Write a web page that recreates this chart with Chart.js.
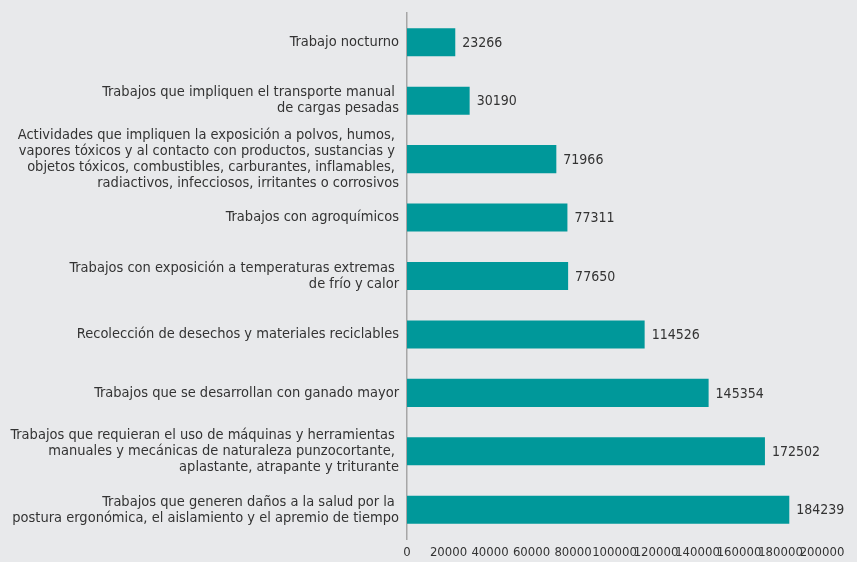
<!DOCTYPE html>
<html lang="es">
<head>
    <meta charset="UTF-8">
    <title>Trabajos peligrosos</title>
    <script src="https://cdn.jsdelivr.net/npm/chart.js"></script>
    <style>
        html, body {
            margin: 0;
            padding: 0;
            background-color: #e8e9eb;
        }

        .chart-box {
            width: 857px;
            height: 562px;
        }
    </style>
</head>
<body>
    <div class="chart-box">
        <canvas id="trabajosChart" width="857" height="562"></canvas>
    </div>

    <script>
        // Categorías (una línea por elemento)
        const categorias = [
            ['Trabajo nocturno'],
            ['Trabajos que impliquen el transporte manual ', 'de cargas pesadas'],
            ['Actividades que impliquen la exposición a polvos, humos, ', 'vapores tóxicos y al contacto con productos, sustancias y ', 'objetos tóxicos, combustibles, carburantes, inflamables, ', 'radiactivos, infecciosos, irritantes o corrosivos'],
            ['Trabajos con agroquímicos'],
            ['Trabajos con exposición a temperaturas extremas ', 'de frío y calor'],
            ['Recolección de desechos y materiales reciclables'],
            ['Trabajos que se desarrollan con ganado mayor'],
            ['Trabajos que requieran el uso de máquinas y herramientas ', 'manuales y mecánicas de naturaleza punzocortante, ', 'aplastante, atrapante y triturante'],
            ['Trabajos que generen daños a la salud por la ', 'postura ergonómica, el aislamiento y el apremio de tiempo']
        ];

        const valores = [23266, 30190, 71966, 77311, 77650, 114526, 145354, 172502, 184239];

        const ticksX = [0, 20000, 40000, 60000, 80000, 100000, 120000, 140000, 160000, 180000, 200000];

        const fuente = '"Liberation Sans Narrow", "DejaVu Sans Condensed", "Roboto", sans-serif';

        // Etiquetas de valor a la derecha de cada barra
        const etiquetasValor = {
            id: 'etiquetasValor',
            afterDatasetsDraw(chart) {
                const ctx = chart.ctx;
                const meta = chart.getDatasetMeta(0);
                ctx.save();
                ctx.font = '14px ' + fuente;
                ctx.fillStyle = '#333333';
                ctx.textAlign = 'left';
                ctx.textBaseline = 'middle';
                meta.data.forEach((bar, i) => {
                    ctx.fillText(String(valores[i]), bar.x + 7, bar.y + 1);
                });
                ctx.restore();
            }
        };

        const ctx = document.getElementById('trabajosChart').getContext('2d');
        const trabajosChart = new Chart(ctx, {
            type: 'bar',
            data: {
                labels: categorias,
                datasets: [{
                    data: valores,
                    backgroundColor: '#00989a',
                    barPercentage: 0.48,
                    categoryPercentage: 1
                }]
            },
            options: {
                indexAxis: 'y',
                responsive: false,
                animation: false,
                layout: {
                    padding: { top: 13, right: 35, bottom: 0, left: 0 }
                },
                plugins: {
                    legend: { display: false },
                    tooltip: { enabled: false }
                },
                scales: {
                    x: {
                        min: 0,
                        max: 200000,
                        afterBuildTicks(scale) {
                            scale.ticks = ticksX.map(v => ({ value: v }));
                        },
                        afterFit(scale) {
                            scale.height = 23;
                            scale.paddingLeft = 0;
                            scale.paddingRight = 0;
                        },
                        grid: { display: false, drawTicks: false },
                        border: { display: false },
                        ticks: {
                            color: '#333333',
                            font: { family: fuente, size: 13 },
                            padding: 6,
                            maxRotation: 0,
                            autoSkip: false,
                            callback: v => String(v)
                        }
                    },
                    y: {
                        afterFit(scale) {
                            scale.width = 407;
                            scale.paddingTop = 0;
                            scale.paddingBottom = 0;
                        },
                        grid: { display: false, drawTicks: false },
                        border: { display: true, color: '#a6a6a6', width: 1.5 },
                        ticks: {
                            color: '#333333',
                            font: { family: fuente, size: 14.5, lineHeight: 1.1 },
                            padding: 8,
                            autoSkip: false
                        }
                    }
                }
            },
            plugins: [etiquetasValor]
        });
    </script>
</body>
</html>
